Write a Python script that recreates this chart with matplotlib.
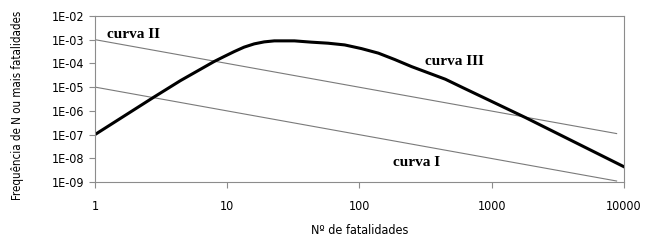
import matplotlib
matplotlib.use("Agg")
import matplotlib.pyplot as plt

# curva I e II (retas), curva III (espessa)
x_ret = [1, 8800]
curva1 = [1e-5, 1.1e-9]
curva2 = [1e-3, 1.1e-7]

x3 = [1, 2.77, 4.43, 7.94, 9.46, 11.3, 13.4, 16.0, 19.05, 22.7, 32.2, 43.2,
      57.8, 77.3, 103.5, 139, 185, 248, 446, 597, 1800, 10000]
curva3 = [1e-7, 3.7e-6, 1.88e-5, 1.19e-4, 1.94e-4, 3.15e-4, 4.83e-4, 6.65e-4,
          8.07e-4, 8.9e-4, 8.9e-4, 7.85e-4, 7.1e-4, 6.0e-4, 4.2e-4, 2.7e-4,
          1.45e-4, 7.3e-5, 2.15e-5, 9.8e-6, 5.2e-7, 4.4e-9]

xticks = [1, 10, 100, 1000, 10000]
xlabels = ["1", "10", "100", "1000", "10000"]
yticks = [1e-9, 1e-8, 1e-7, 1e-6, 1e-5, 1e-4, 1e-3, 1e-2]
ylabels = ["1E-09", "1E-08", "1E-07", "1E-06", "1E-05", "1E-04", "1E-03", "1E-02"]

plt.rcParams['font.family'] = ['DejaVu Sans']
plt.rcParams['font.stretch'] = 'condensed'
cinza = "#8c8c8c"

fig = plt.figure(figsize=(6.53, 2.46), dpi=100)
ax = fig.add_axes([0.1455, 0.2602, 0.81, 0.675])

ax.plot(x_ret, curva1, color="#7a7a7a", lw=0.8)
ax.plot(x_ret, curva2, color="#7a7a7a", lw=0.8)
ax.plot(x3, curva3, color="black", lw=2.2, solid_joinstyle="round")

ax.set_xscale("log")
ax.set_yscale("log")
ax.set_xlim(1, 10000)
ax.set_ylim(1e-9, 1e-2)
ax.set_xticks(xticks)
ax.set_xticklabels(xlabels)
ax.set_yticks(yticks)
ax.set_yticklabels(ylabels)
ax.minorticks_off()
ax.tick_params(axis="both", labelsize=9, color=cinza, length=4, width=0.8)
ax.tick_params(axis="x", pad=9)
for s in ax.spines.values():
    s.set_color(cinza)
    s.set_linewidth(0.8)

ax.set_xlabel("Nº de fatalidades", fontsize=9, labelpad=8)
fig.text(18 / 653, 1 - 105 / 246, "Frequência de N ou mais fatalidades",
         rotation=90, fontsize=8.3, ha="center", va="center")

serif = dict(family=["Liberation Serif", "DejaVu Serif"], fontweight="bold",
             fontsize=11, fontstretch="normal")
ax.text(1.23, 1.19e-3, "curva II", va="baseline", **serif)
ax.text(312, 8.6e-5, "curva III", va="baseline", **serif)
ax.text(178, 4.9e-9, "curva I", va="baseline", **serif)

fig.savefig("out.png", dpi=100)
